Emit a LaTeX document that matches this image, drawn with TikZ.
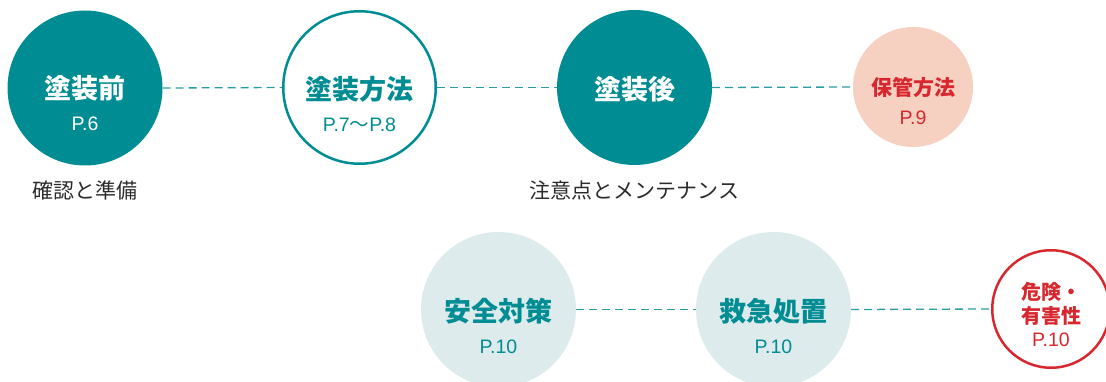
\documentclass[tikz,border=0pt]{standalone}
\usepackage{fontspec}
\setmainfont{Noto Sans CJK JP}
\newfontfamily\latinf{Liberation Sans}
\definecolor{teal1}{HTML}{008C93}
\definecolor{teal2}{HTML}{2A9DA2}
\definecolor{pale}{HTML}{DDEBEC}
\definecolor{peach}{HTML}{F6D0C0}
\definecolor{redc}{HTML}{D7282F}
\definecolor{txt}{HTML}{2B2B2B}
\tikzset{
  big/.style={circle, minimum size=155pt, inner sep=0pt},
  small/.style={circle, minimum size=120pt, inner sep=0pt},
  title/.style={font=\fontsize{27}{30}\selectfont\bfseries, inner sep=0pt},
  stitle/.style={font=\fontsize{21}{24}\selectfont\bfseries, inner sep=0pt},
  page/.style={font=\fontsize{19.5}{22}\selectfont\latinf, inner sep=0pt},
  sub/.style={font=\fontsize{21}{24}\selectfont, text=txt, inner sep=0pt},
  conn/.style={draw=teal2, line width=1.3pt, dash pattern=on 8pt off 5pt},
}
\begin{document}
\begin{tikzpicture}[x=1pt,y=-1pt]
\useasboundingbox (0,0) rectangle (1106,382);
% top row
\node[big, fill=teal1] (c1) at (85,88) {};
\node[big, draw=teal1, line width=2.5pt, minimum size=152.5pt, fill=white] (c2) at (359.5,87.5) {};
\node[big, fill=teal1] (c3) at (634.5,87.5) {};
\node[small, fill=peach] (c4) at (913,87) {};
% bottom row
\node[big, fill=pale] (c5) at (498.5,309.5) {};
\node[big, fill=pale] (c6) at (773.5,309.5) {};
\node[small, draw=redc, line width=2.5pt, minimum size=117.5pt, fill=white] (c7) at (1051,309) {};
% connectors
\draw[conn] (c1.east) -- (c2.west);
\draw[conn] (c2.east) -- (c3.west);
\draw[conn] (c3.east) -- (c4.west);
\draw[conn] (c5.east) -- (c6.west);
\draw[conn] (c6.east) -- (c7.west);
% texts
\node[title, text=white] (t1) at (85,88) {塗装前};
\node[page, text=white] (p1) at (85,123.5) {P.6};
\node[sub] (s1) at (85,190) {確認と準備};
\node[title, text=teal1] (t2) at (359.5,89) {塗装方法};
\node[page, text=teal1] (p2) at (359.5,125) {P.7{\rmfamily ～}P.8};
\node[title, text=white] (t3) at (634.5,89) {塗装後};
\node[sub] (s3) at (634.5,190) {注意点とメンテナンス};
\node[stitle, text=redc] (t4) at (913,88) {保管方法};
\node[page, text=redc] (p4) at (913,118) {P.9};
\node[title, text=teal1] (t5) at (498.5,311) {安全対策};
\node[page, text=teal1] (p5) at (498.5,346.5) {P.10};
\node[title, text=teal1] (t6) at (773.5,311) {救急処置};
\node[page, text=teal1] (p6) at (773.5,346.5) {P.10};
\node[stitle, text=redc, align=center, font=\fontsize{20}{23.5}\selectfont\bfseries] (t7) at (1051,304) {危険・\\有害性};
\node[page, text=redc] (p7) at (1051,340) {P.10};
\end{tikzpicture}
\end{document}
